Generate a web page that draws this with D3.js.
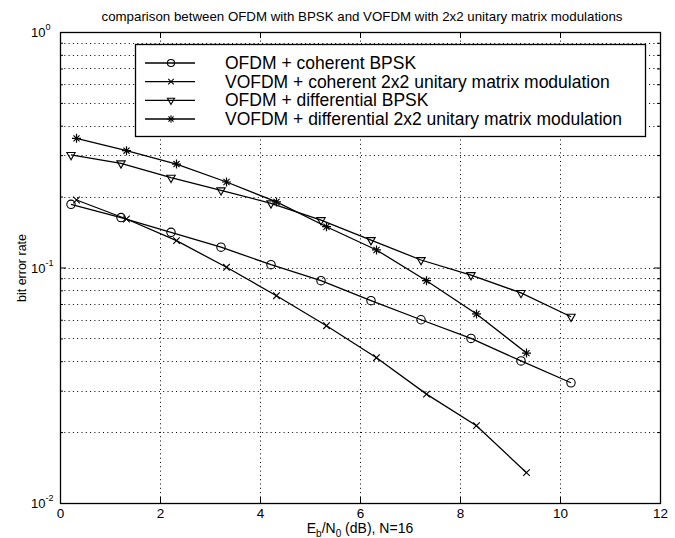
<!DOCTYPE html>
<html>
<head>
<meta charset="utf-8">
<script src="https://cdn.jsdelivr.net/npm/d3@7"></script>
<style>
  body { margin: 0; background: #fff; }
  svg { font-family: "Liberation Sans", Arial, sans-serif; }
</style>
</head>
<body>
<div class="chart"></div>
<script>
// Eb/N0 positions of the points (dB)
const snrOfdm = [0.22, 1.22, 2.22, 3.22, 4.22, 5.22, 6.22, 7.22, 8.22, 9.22, 10.22];
const snrVofdm = [0.33, 1.33, 2.33, 3.33, 4.33, 5.33, 6.33, 7.33, 8.33, 9.33];

// bit error rates
const berOfdmCoh = [0.1855, 0.163, 0.141, 0.122, 0.1028, 0.0879, 0.0723, 0.060, 0.050, 0.0401, 0.0324];
const berVofdmCoh = [0.1935, 0.1607, 0.130, 0.1002, 0.0759, 0.0566, 0.0414, 0.029, 0.0213, 0.01345];
const berOfdmDiff = [0.3005, 0.277, 0.2406, 0.2128, 0.1873, 0.159, 0.1308, 0.1076, 0.0929, 0.078, 0.0618];
const berVofdmDiff = [0.3536, 0.3133, 0.275, 0.2307, 0.1898, 0.149, 0.1187, 0.0879, 0.0635, 0.0433];

const seriesNames = [
  "OFDM + coherent BPSK",
  "VOFDM + coherent 2x2 unitary matrix modulation",
  "OFDM + differential BPSK",
  "VOFDM + differential 2x2 unitary matrix modulation"
];
const markerTypes = ["circle", "x", "triangle", "star"];

const xTicks = [0, 2, 4, 6, 8, 10, 12];
const yMajor = [0.01, 0.1, 1];
const yLabelsExp = ["-2", "-1", "0"];

const titleText = "comparison between OFDM with BPSK and VOFDM with 2x2 unitary matrix modulations";

const width = 675, height = 538;
const svg = d3.select(".chart").append("svg")
  .attr("width", width)
  .attr("height", height);

const xScale = d3.scaleLinear().domain([0, 12]).range([60, 660]);
const yScale = d3.scaleLog().domain([0.01, 1]).range([503, 32]);

const x0 = xScale.range()[0], x1 = xScale.range()[1];
const yTop = yScale.range()[1], yBot = yScale.range()[0];

// minor log ticks
const yMinor = yScale.ticks().filter(v => yMajor.indexOf(v) < 0);

// grid
const grid = svg.append("g").attr("class", "grid")
  .attr("stroke", "#000").attr("stroke-width", 1)
  .attr("stroke-dasharray", "1,3.3");
grid.selectAll(".gx").data(xTicks.slice(1, -1)).enter().append("line")
  .attr("x1", d => Math.round(xScale(d)) + 0.5).attr("x2", d => Math.round(xScale(d)) + 0.5)
  .attr("y1", yTop).attr("y2", yBot);
grid.selectAll(".gy").data(yMinor.concat([0.1])).enter().append("line")
  .attr("y1", d => Math.round(yScale(d)) + 0.5).attr("y2", d => Math.round(yScale(d)) + 0.5)
  .attr("x1", x0).attr("x2", x1);

// axes: bottom / top with inward ticks
const xAxisB = d3.axisBottom(xScale).tickValues(xTicks).tickSizeInner(-6).tickSizeOuter(0).tickPadding(5);
const xAxisT = d3.axisTop(xScale).tickValues(xTicks).tickSizeInner(-6).tickSizeOuter(0).tickFormat("");
const gxb = svg.append("g").attr("transform", `translate(0,${yBot})`).call(xAxisB);
svg.append("g").attr("transform", `translate(0,${yTop})`).call(xAxisT);
gxb.selectAll("text").attr("font-size", "13.5px").attr("fill", "#000")
  .attr("font-family", "Liberation Sans, Arial, sans-serif");

// y axes: major and minor ticks, left and right
const yAxisL = d3.axisLeft(yScale).tickValues(yMajor).tickSizeInner(-6).tickSizeOuter(0).tickFormat("");
const yAxisLm = d3.axisLeft(yScale).tickValues(yMinor).tickSizeInner(-3).tickSizeOuter(0).tickFormat("");
const yAxisR = d3.axisRight(yScale).tickValues(yMajor).tickSizeInner(-6).tickSizeOuter(0).tickFormat("");
const yAxisRm = d3.axisRight(yScale).tickValues(yMinor).tickSizeInner(-3).tickSizeOuter(0).tickFormat("");
svg.append("g").attr("transform", `translate(${x0},0)`).call(yAxisL);
svg.append("g").attr("transform", `translate(${x0},0)`).call(yAxisLm);
svg.append("g").attr("transform", `translate(${x1},0)`).call(yAxisR);
svg.append("g").attr("transform", `translate(${x1},0)`).call(yAxisRm);
svg.selectAll(".domain").remove();

// frame
svg.append("rect")
  .attr("x", x0 + 0.5).attr("y", yTop + 0.5)
  .attr("width", x1 - x0).attr("height", yBot - yTop)
  .attr("fill", "none").attr("stroke", "#000").attr("stroke-width", 1.3);

// y tick labels 10^n
const ylab = svg.selectAll(".ylab").data(yMajor).enter().append("text")
  .attr("x", 31)
  .attr("y", d => yScale(d) + 5)
  .attr("font-size", "13px")
  .attr("fill", "#000");
ylab.append("tspan").text("10");
ylab.append("tspan").attr("dy", -7).attr("font-size", "9px").text((d, i) => yLabelsExp[i]);

// markers
function drawMarker(g, type, size) {
  const s = size || 1;
  if (type === "circle") {
    g.append("circle").attr("r", 4.2 * s).attr("fill", "none").attr("stroke", "#000").attr("stroke-width", 1.1);
  } else if (type === "x") {
    g.append("path").attr("d", d3.symbol(d3.symbolTimes, 30 * s * s)()).attr("fill", "none").attr("stroke", "#000").attr("stroke-width", 1.1);
  } else if (type === "triangle") {
    g.append("path").attr("d", d3.symbol(d3.symbolTriangle2, 50 * s * s)())
      .attr("transform", "rotate(180)").attr("fill", "none").attr("stroke", "#000").attr("stroke-width", 1.1);
  } else {
    g.append("path").attr("d", d3.symbol(d3.symbolTimes, 26 * s * s)()).attr("fill", "none").attr("stroke", "#000").attr("stroke-width", 1.1);
    g.append("path").attr("d", "M0,-4.5V4.5M-4.5,0H4.5").attr("transform", `scale(${s})`).attr("stroke", "#000").attr("stroke-width", 1.2);
  }
}

const allSeries = [
  {x: snrOfdm, y: berOfdmCoh},
  {x: snrVofdm, y: berVofdmCoh},
  {x: snrOfdm, y: berOfdmDiff},
  {x: snrVofdm, y: berVofdmDiff}
];

const line = d3.line().x(d => xScale(d[0])).y(d => yScale(d[1]));

allSeries.forEach((s, k) => {
  const pts = s.x.map((v, i) => [v, s.y[i]]);
  svg.append("path")
    .datum(pts)
    .attr("d", line)
    .attr("fill", "none")
    .attr("stroke", "#000")
    .attr("stroke-width", 1.3);
  svg.selectAll(".m" + k).data(pts).enter().append("g")
    .attr("transform", d => `translate(${xScale(d[0])},${yScale(d[1])})`)
    .each(function () { drawMarker(d3.select(this), markerTypes[k]); });
});

// Legend
const leg = svg.append("g");
leg.append("rect")
  .attr("x", 135.5).attr("y", 44.5).attr("width", 510).attr("height", 92)
  .attr("fill", "#fff").attr("stroke", "#000").attr("stroke-width", 1.3);
const rowY = d3.scaleLinear().domain([0, 3]).range([63, 119]);
seriesNames.forEach((name, i) => {
  const yy = rowY(i);
  leg.append("line").attr("x1", 145).attr("x2", 195).attr("y1", yy).attr("y2", yy)
    .attr("stroke", "#000").attr("stroke-width", 1.3);
  const mg = leg.append("g").attr("transform", `translate(171,${yy})`);
  drawMarker(mg, markerTypes[i], 0.85);
  leg.append("text").attr("x", 225).attr("y", yy + 6)
    .attr("font-size", "17.5px").attr("fill", "#000").text(name);
});

// Title
svg.append("text")
  .attr("x", (x0 + x1) / 2 + 2).attr("y", 21)
  .attr("text-anchor", "middle")
  .attr("font-size", "13.3px")
  .text(titleText);

// Axis labels
const xl = svg.append("text")
  .attr("x", 360).attr("y", 533)
  .attr("text-anchor", "middle")
  .attr("font-size", "14px");
xl.append("tspan").text("E");
xl.append("tspan").attr("font-size", "10px").attr("dy", 4).text("b");
xl.append("tspan").attr("dy", -4).text("/N");
xl.append("tspan").attr("font-size", "10px").attr("dy", 4).text("0");
xl.append("tspan").attr("dy", -4).text(" (dB), N=16");

svg.append("text")
  .attr("transform", "translate(26,268) rotate(-90)")
  .attr("text-anchor", "middle")
  .attr("font-size", "12.5px")
  .text("bit error rate");
</script>
</body>
</html>
